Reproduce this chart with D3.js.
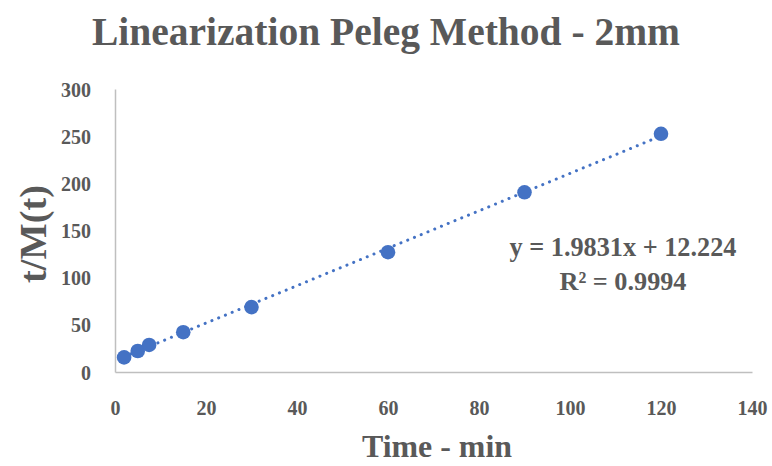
<!DOCTYPE html>
<html><head><meta charset="utf-8">
<script src="https://cdn.jsdelivr.net/npm/d3@7"></script>
<style>body{margin:0;background:#fff}svg{display:block}</style>
</head><body>
<svg id="c" width="772" height="466"></svg>
<script>
const timeMin = [2, 5, 7.5, 15, 30, 60, 90, 120];
const tOverM = [15.5, 22.3, 28.7, 42.2, 68.8, 127, 190.5, 252.5];
const xTicks = [0, 20, 40, 60, 80, 100, 120, 140];
const yTicks = [0, 50, 100, 150, 200, 250, 300];
const slope = 1.9831, intercept = 12.224;
const eqLabel = "y = 1.9831x + 12.224";
const r2Label = "R² = 0.9994";
const title = "Linearization Peleg Method - 2mm";
const xTitle = "Time - min";
const yTitle = "t/M(t)";

const FONT = "'Liberation Serif', 'DejaVu Serif', serif";
const GRAY = "#595959";
const BLUE = "#4472C4";
const svg = d3.select("#c");
const x = d3.scaleLinear().domain([0, 140]).range([115, 752]);
const y = d3.scaleLinear().domain([0, 300]).range([372, 89]);

function label(tx, ty, txt, size, targetW, rot) {
  const t = svg.append("text").attr("text-anchor", "middle")
    .attr("font-family", FONT).attr("font-weight", "bold").attr("font-size", size)
    .attr("fill", GRAY).text(txt);
  if (rot) t.attr("transform", `translate(${tx},${ty}) rotate(${rot})`);
  else t.attr("x", tx).attr("y", ty);
  if (targetW) {
    const w = t.node().getComputedTextLength();
    t.attr("font-size", size * targetW / w);
  }
  return t;
}

label(386, 45, title, 36, 588);

// axes
const xa = svg.append("g").attr("transform", `translate(0,${y(0)})`)
  .call(d3.axisBottom(x).tickValues(xTicks).tickSize(0).tickPadding(0));
const ya = svg.append("g").attr("transform", `translate(${x(0)},0)`)
  .call(d3.axisLeft(y).tickValues(yTicks).tickSize(0).tickPadding(24));
[xa, ya].forEach(a => {
  a.select(".domain").attr("stroke", "#bfbfbf").attr("stroke-width", 1.5);
  a.selectAll("text").attr("font-family", FONT).attr("font-weight", "bold")
    .attr("font-size", 20).attr("fill", GRAY);
});
xa.selectAll("text").attr("y", 43).attr("dy", null);
ya.selectAll("text").attr("dy", "0.35em");

// trendline
const x0 = d3.min(timeMin), x1 = d3.max(timeMin);
svg.append("line")
  .attr("x1", x(x0)).attr("y1", y(slope * x0 + intercept))
  .attr("x2", x(x1)).attr("y2", y(slope * x1 + intercept))
  .attr("stroke", BLUE).attr("stroke-width", 3).attr("stroke-linecap", "round")
  .attr("stroke-dasharray", "0.1 7.2");

// points
svg.append("g").selectAll("circle").data(timeMin).join("circle")
  .attr("cx", d => x(d)).attr("cy", (d, i) => y(tOverM[i])).attr("r", 7.3)
  .attr("fill", BLUE);

// equation
label(623, 256, eqLabel, 22, 227);
label(623, 290, r2Label, 22, 127);

// axis titles
label(437, 457, xTitle, 29, 150);
label(46, 234, yTitle, 29, 98, -90);
</script>
</body></html>
